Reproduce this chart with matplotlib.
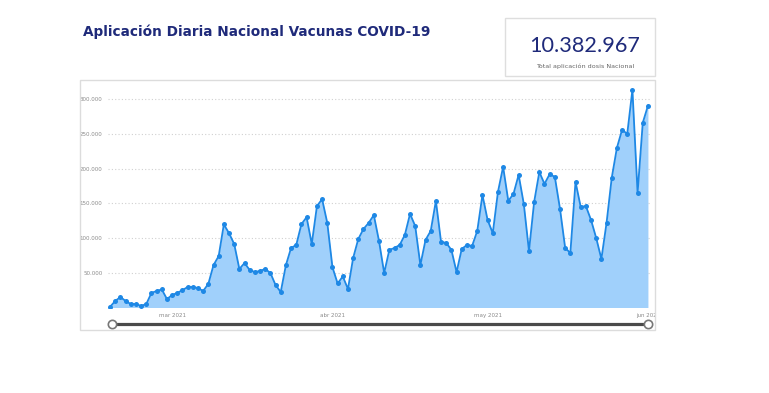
import numpy as np
import pandas as pd
import matplotlib
matplotlib.use('agg')
import matplotlib.pyplot as plt
import matplotlib.dates as mdates
from matplotlib.patches import Rectangle
from matplotlib.transforms import Bbox, TransformedBbox
from matplotlib.ticker import FuncFormatter

# daily doses, 17 feb 2021 -> 1 jun 2021
dates = pd.date_range('2021-02-17', '2021-06-01', freq='D')
doses = [
    1000, 9400, 15100, 9400, 5000, 5000, 2200, 5000, 20900, 23800, 26000, 12200,
    18000, 21000, 25000, 29500, 29500, 28000, 23800, 34000, 61000, 74000, 119600,
    107000, 91500, 55500, 64000, 54000, 51000, 52600, 55500, 49700, 32400, 22300,
    61000, 85700, 90000, 120000, 130000, 91500, 146000, 156000, 121800,
    58000, 34600, 44700, 26700, 71300, 98700, 113000, 121800, 133000, 95800, 49700,
    82900, 85700, 90000, 104500, 134700, 117400, 61200, 97300, 110200, 153500,
    94400, 93000, 82900, 51000, 84300, 90000, 88600, 110200, 162000,
    126000, 107000, 166400, 202500, 153500, 163500, 191000, 149000, 81400, 152000,
    195000, 178000, 192000, 188000, 142000, 85700, 78500, 180900, 144800, 146000,
    126000, 100000, 70000, 121800, 186600, 229800, 255800, 250000, 313400, 165000,
    265900, 290400,
]
tick_dates = pd.to_datetime(['2021-03-01', '2021-04-01', '2021-05-01', '2021-06-01'])
tick_labels = ['mar 2021', 'abr 2021', 'may 2021', 'jun 2021']
y_ticks = [50000, 100000, 150000, 200000, 250000, 300000]

title = 'Aplicación Diaria Nacional Vacunas COVID-19'
total = '10.382.967'
total_label = 'Total aplicación dosis Nacional'

W, H = 769, 393
fig = plt.figure(figsize=(W / 100, H / 100), dpi=100)
fig.patch.set_facecolor('white')


def px(x0, y0, x1, y1):
    # pixel box (top-left origin) -> figure fraction rect
    return [x0 / W, 1 - y1 / H, (x1 - x0) / W, (y1 - y0) / H]


navy = '#1f2a7a'
line_c = '#1e88e5'
fill_c = '#a0d0fb'

# title
fig.text(83 / W, 1 - 32 / H, title, fontsize=9.8, fontweight='bold', color=navy,
         ha='left', va='center', family='DejaVu Sans')

# KPI card
fig.patches.append(Rectangle((505 / W, 1 - 76 / H), 150 / W, 58 / H, transform=fig.transFigure,
                             fill=False, edgecolor='#dedede', linewidth=1))
fig.text(585 / W, 1 - 46 / H, total, fontsize=15.6, color=navy, ha='center', va='center',
         family='Lato')
fig.text(585 / W, 1 - 66 / H, total_label, fontsize=4.6, color='#666666', ha='center',
         va='center', family='DejaVu Sans')

# chart card
fig.patches.append(Rectangle((80 / W, 1 - 330 / H), 575 / W, 250 / H, transform=fig.transFigure,
                             fill=False, edgecolor='#dcdcdc', linewidth=1))

ax = fig.add_axes(px(108, 88, 650, 307.5))
x = mdates.date2num(dates)
ax.fill_between(x, doses, 0, color=fill_c, linewidth=0, zorder=2)
ax.plot(x, doses, color=line_c, linewidth=1.3, marker='o', markersize=3.6,
        markeredgewidth=0, zorder=3)

ax.set_xlim(x[0] - 0.4, x[-1] + 0.4)
ax.set_ylim(0, 316000)
ax.set_yticks(y_ticks)
ax.yaxis.set_major_formatter(FuncFormatter(lambda v, p: f'{int(v):,}'.replace(',', '.')))
ax.set_xticks(mdates.date2num(tick_dates))
ax.set_xticklabels(tick_labels)
ax.tick_params(length=0, labelsize=4, labelcolor='#8a8a8a', pad=4)
ax.grid(axis='y', linestyle=(0, (1, 2)), color='#d0d0d0', linewidth=0.8, zorder=0)
for s in ax.spines.values():
    s.set_visible(False)

clip = TransformedBbox(Bbox([[0, 0], [655 / W, 1]]), fig.transFigure)
for lab in ax.get_xticklabels():
    lab.set_clip_box(clip)
    lab.set_clip_on(True)

# range slider under the chart
sl = fig.add_axes(px(100, 316, 660, 332))
sl.set_xlim(100, 660)
sl.set_ylim(0, 1)
sl.axis('off')
sl.plot([112, 648], [0.5, 0.5], color='#4a4a4a', linewidth=2.3, solid_capstyle='butt')
sl.plot([112, 648], [0.5, 0.5], linestyle='none', marker='o', markersize=6,
        markerfacecolor='white', markeredgecolor='#777777', markeredgewidth=1.2)

fig.savefig('out.png', dpi=100)
